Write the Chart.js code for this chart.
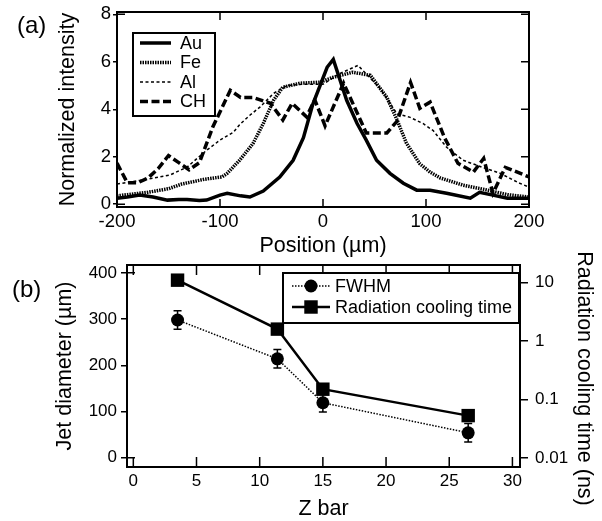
<!DOCTYPE html>
<html>
<head>
<meta charset="utf-8">
<script src="https://cdn.jsdelivr.net/npm/chart.js@4.4.1/dist/chart.umd.min.js"></script>
<style>
body { margin: 0; background: #fff; }
#wrap { position: relative; width: 602px; height: 521px; overflow: hidden; }
canvas { position: absolute; left: 0; }
.tag { position: absolute; font: 24px "Liberation Sans", Arial, sans-serif; line-height: 1; color: #000; }
</style>
</head>
<body>
<div id="wrap">
  <canvas id="chartA" width="602" height="260" style="top:0;width:602px;height:260px"></canvas>
  <canvas id="chartB" width="602" height="273" style="top:248px;width:602px;height:273px"></canvas>
  <div class="tag" style="left:17px;top:13px">(a)</div>
  <div class="tag" style="left:12px;top:277px">(b)</div>
</div>
<script>
// ---- panel (a): intensity profiles ----
const auPos = [-200, -190, -178, -165, -151, -140, -132, -120, -113, -100, -93, -80, -71, -58, -42, -29, -19, -10, 4, 10, 23, 33, 42, 52, 65, 78, 91, 104, 120, 143, 152, 165, 179, 200];
const auVal = [0.25, 0.3, 0.38, 0.3, 0.17, 0.2, 0.2, 0.15, 0.17, 0.38, 0.46, 0.35, 0.3, 0.55, 1.14, 1.85, 2.8, 4.2, 5.77, 6.1, 4.38, 3.41, 2.7, 1.85, 1.3, 0.88, 0.59, 0.59, 0.46, 0.25, 0.5, 0.38, 0.25, 0.25];

const fePos = [-200, -190, -170, -150, -137, -115, -98, -93, -81, -68, -58, -48, -39, -22, -3, 10, 29, 46, 62, 72, 81, 94, 104, 114, 136, 159, 179, 200];
const feVal = [0.35, 0.4, 0.5, 0.65, 0.85, 1.05, 1.15, 1.3, 1.85, 2.55, 3.4, 4.38, 4.93, 5.1, 5.14, 5.35, 5.56, 5.43, 4.5, 3.54, 2.57, 1.7, 1.35, 1.1, 0.8, 0.6, 0.4, 0.3];

const alPos = [-200, -178, -149, -132, -113, -100, -87, -81, -71, -61, -48, -35, -20, 0, 16, 34, 55, 72, 84, 97, 107, 120, 136, 155, 172, 191, 200];
const alVal = [0.85, 1.0, 1.22, 1.56, 2.27, 2.7, 3.03, 3.35, 3.75, 4.1, 4.67, 5.0, 5.05, 5.05, 5.5, 5.85, 4.9, 3.8, 3.67, 3.4, 3.1, 2.4, 1.85, 1.55, 1.3, 0.88, 0.72];

const chPos = [-200, -190, -180, -170, -160, -150, -140, -130, -120, -107, -90, -80, -68, -51, -39, -30, -16, -8, 2, 10, 20, 42, 62, 72, 85, 94, 104, 118, 131, 146, 156, 165, 177, 200];
const chVal = [1.73, 0.9, 0.9, 1.1, 1.5, 2.05, 1.75, 1.45, 1.75, 3.25, 4.8, 4.5, 4.5, 4.25, 3.55, 4.25, 3.68, 4.4, 3.3, 4.1, 5.1, 3.0, 3.0, 3.5, 5.13, 4.04, 4.3, 2.8, 1.72, 1.35, 1.93, 0.46, 1.55, 1.15];

const aXTicks = [-200, -100, 0, 100, 200];
const aYTicks = [0, 2, 4, 6, 8];

// ---- panel (b): jet diameter and cooling time ----
const zBar = [3.5, 11.4, 15.0, 26.5];
const fwhm = [298, 214, 119, 54];
const fwhmErr = [20, 20, 20, 20];
const coolTime = [11, 1.6, 0.15, 0.053];

const bXTicks = [0, 5, 10, 15, 20, 25, 30];
const bYTicks = [0, 100, 200, 300, 400];
const bY2Ticks = [0.01, 0.1, 1, 10];

const FONT = '"Liberation Sans", Arial, Helvetica, sans-serif';
Chart.defaults.font.family = FONT;
Chart.defaults.font.size = 18;
Chart.defaults.color = '#000';

const pts = (xs, ys) => xs.map((x, i) => ({ x: x, y: ys[i] }));
const useTicks = arr => scale => { scale.ticks = arr.map(v => ({ value: v })); };
const fixSize = (w, h) => scale => {
  if (w != null) scale.width = w;
  if (h != null) scale.height = h;
  scale.paddingTop = scale.paddingBottom = scale.paddingLeft = scale.paddingRight = 0;
};
const titleFont = { size: 21.5, lineHeight: 1 };

// frame with inward ticks
const frameTicks = {
  id: 'frameTicks',
  afterDatasetsDraw(chart, args, o) {
    const { ctx, chartArea: a } = chart;
    const xs = chart.scales.x;
    const ys = chart.scales.y;
    ctx.save();
    ctx.strokeStyle = '#000';
    ctx.lineWidth = 1.5;
    ctx.beginPath();
    xs.ticks.forEach(t => {
      const px = xs.getPixelForValue(t.value);
      ctx.moveTo(px, a.bottom); ctx.lineTo(px, a.bottom - o.xLen);
      ctx.moveTo(px, a.top); ctx.lineTo(px, a.top + o.xLen);
    });
    if (o.mirrorY) {
      ys.ticks.forEach(t => {
        const py = ys.getPixelForValue(t.value);
        ctx.moveTo(a.right, py); ctx.lineTo(a.right - o.mirrorY, py);
      });
    }
    (o.leftIn || []).forEach(v => {
      const py = ys.getPixelForValue(v);
      ctx.moveTo(a.left, py); ctx.lineTo(a.left + 8, py);
    });
    ctx.stroke();
    ctx.lineWidth = 2;
    ctx.strokeRect(a.left, a.top, a.right - a.left, a.bottom - a.top);
    ctx.restore();
  }
};

// legend in a box, inside the plot
const boxLegend = {
  id: 'boxLegend',
  afterDraw(chart, args, o) {
    const ctx = chart.ctx;
    ctx.save();
    ctx.fillStyle = '#fff';
    ctx.fillRect(o.x, o.y, o.w, o.h);
    ctx.strokeStyle = '#000';
    ctx.lineWidth = 2;
    ctx.strokeRect(o.x, o.y, o.w, o.h);
    ctx.font = '18px ' + FONT;
    ctx.textBaseline = 'middle';
    chart.data.datasets.forEach((ds, i) => {
      const y = o.y + o.first + i * o.step;
      ctx.setLineDash(ds.borderDash || []);
      ctx.lineWidth = ds.borderWidth;
      ctx.beginPath();
      ctx.moveTo(o.x + o.l0, y);
      ctx.lineTo(o.x + o.l1, y);
      ctx.stroke();
      ctx.setLineDash([]);
      const cx = o.x + (o.l0 + o.l1) / 2;
      ctx.fillStyle = '#000';
      if (ds.pointStyle === 'circle' && ds.pointRadius) {
        ctx.beginPath(); ctx.arc(cx, y, ds.pointRadius, 0, Math.PI * 2); ctx.fill();
      } else if (ds.pointStyle === 'rect' && ds.pointRadius) {
        const s = ds.pointRadius * Math.SQRT1_2;
        ctx.fillRect(cx - s, y - s, 2 * s, 2 * s);
      }
      ctx.fillText(ds.label, o.x + o.tx, y + 1);
    });
    ctx.restore();
  }
};

// vertical error bars for the FWHM points
const errBars = {
  id: 'errBars',
  afterDatasetsDraw(chart) {
    const { ctx } = chart;
    const ys = chart.scales.y;
    const meta = chart.getDatasetMeta(0);
    ctx.save();
    ctx.strokeStyle = '#000';
    ctx.lineWidth = 1.5;
    ctx.beginPath();
    meta.data.forEach((p, i) => {
      const y1 = ys.getPixelForValue(fwhm[i] - fwhmErr[i]);
      const y2 = ys.getPixelForValue(fwhm[i] + fwhmErr[i]);
      ctx.moveTo(p.x, y1); ctx.lineTo(p.x, y2);
      ctx.moveTo(p.x - 4, y1); ctx.lineTo(p.x + 4, y1);
      ctx.moveTo(p.x - 4, y2); ctx.lineTo(p.x + 4, y2);
    });
    ctx.stroke();
    ctx.restore();
  }
};

// right axis title, placed lower than the axis centre as in the original
const sideTitle = {
  id: 'sideTitle',
  afterDraw(chart, args, o) {
    const ctx = chart.ctx;
    ctx.save();
    ctx.translate(o.x, o.y);
    ctx.rotate(Math.PI / 2);
    ctx.font = '21.5px ' + FONT;
    ctx.fillStyle = '#000';
    ctx.textAlign = 'center';
    ctx.textBaseline = 'middle';
    ctx.fillText(o.text, 0, 0);
    ctx.restore();
  }
};

const lineSet = (label, xs, ys, width, dash) => ({
  label: label,
  data: pts(xs, ys),
  borderColor: '#000',
  borderWidth: width,
  borderDash: dash,
  pointRadius: 0,
  tension: 0,
  fill: false
});

new Chart(document.getElementById('chartA'), {
  type: 'line',
  data: {
    datasets: [
      lineSet('Au', auPos, auVal, 3.5, []),
      lineSet('Fe', fePos, feVal, 3.5, [1.5, 1]),
      lineSet('Al', alPos, alVal, 1.5, [3, 2.5]),
      lineSet('CH', chPos, chVal, 3.5, [8, 3.5])
    ]
  },
  options: {
    responsive: false,
    animation: false,
    layout: { padding: { left: 57, right: 73, top: 12, bottom: 3 } },
    plugins: {
      legend: { display: false },
      tooltip: { enabled: false },
      frameTicks: { xLen: 8, mirrorY: 8, leftIn: [0, 8] },
      boxLegend: { x: 133, y: 33, w: 82, h: 83, first: 10, step: 19.5, l0: 7, l1: 38, tx: 47 }
    },
    scales: {
      x: {
        type: 'linear', min: -200, max: 200,
        afterBuildTicks: useTicks(aXTicks),
        afterFit: fixSize(null, 50),
        grid: { drawOnChartArea: false, drawTicks: false },
        border: { display: false },
        ticks: { padding: 4, maxRotation: 0, font: { size: 18.5 } },
        title: { display: true, text: 'Position (µm)', font: titleFont, padding: 0 }
      },
      y: {
        min: -0.12, max: 8.1,
        afterBuildTicks: useTicks(aYTicks),
        afterFit: fixSize(60, null),
        grid: { drawOnChartArea: false, color: '#000', lineWidth: 1.5, tickLength: 4 },
        border: { display: false },
        ticks: { padding: 2, font: { size: 18.5 } },
        title: { display: true, text: 'Normalized intensity', font: titleFont, padding: 0 }
      }
    }
  },
  plugins: [frameTicks, boxLegend]
});

new Chart(document.getElementById('chartB'), {
  type: 'line',
  data: {
    datasets: [
      {
        label: 'FWHM', yAxisID: 'y',
        data: pts(zBar, fwhm),
        borderColor: '#000', borderWidth: 1.5, borderDash: [1.5, 1.5],
        pointStyle: 'circle', pointRadius: 6.5, pointBackgroundColor: '#000', pointBorderWidth: 0,
        tension: 0
      },
      {
        label: 'Radiation cooling time', yAxisID: 'y2',
        data: pts(zBar, coolTime),
        borderColor: '#000', borderWidth: 2.5, borderDash: [],
        pointStyle: 'rect', pointRadius: 9.5, pointBackgroundColor: '#000', pointBorderWidth: 0,
        tension: 0
      }
    ]
  },
  options: {
    responsive: false,
    animation: false,
    layout: { padding: { left: 54, right: 9, top: 17, bottom: 1 } },
    plugins: {
      legend: { display: false },
      tooltip: { enabled: false },
      frameTicks: { xLen: 10, mirrorY: 0, leftIn: [0, 400] },
      boxLegend: { x: 283, y: 25, w: 236, h: 50, first: 13, step: 21, l0: 9, l1: 47, tx: 52 },
      sideTitle: { x: 583.5, y: 130.5, text: 'Radiation cooling time (ns)' }
    },
    scales: {
      x: {
        type: 'linear', min: -0.5, max: 30.6,
        afterBuildTicks: useTicks(bXTicks),
        afterFit: fixSize(null, 53),
        grid: { drawOnChartArea: false, drawTicks: false },
        border: { display: false },
        ticks: { padding: 4, maxRotation: 0, font: { size: 17 } },
        title: { display: true, text: 'Z bar', font: titleFont, padding: 0 }
      },
      y: {
        position: 'left', min: -20, max: 417,
        afterBuildTicks: useTicks(bYTicks),
        afterFit: fixSize(73, null),
        grid: { drawOnChartArea: false, color: '#000', lineWidth: 1.5, tickLength: 6 },
        border: { display: false },
        ticks: { padding: 4, font: { size: 17 } },
        title: { display: true, text: 'Jet diameter (µm)', font: titleFont, padding: 0 }
      },
      y2: {
        type: 'logarithmic', position: 'right', min: 0.007, max: 20,
        afterBuildTicks: useTicks(bY2Ticks),
        afterFit: fixSize(73, null),
        grid: { drawOnChartArea: false, color: '#000', lineWidth: 1.5, tickLength: 8 },
        border: { display: false },
        ticks: { padding: 7, font: { size: 17 }, callback: v => String(v) },
        title: { display: false }
      }
    }
  },
  plugins: [frameTicks, boxLegend, errBars, sideTitle]
});
</script>
</body>
</html>
